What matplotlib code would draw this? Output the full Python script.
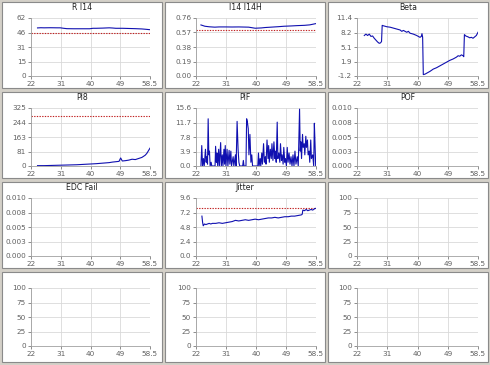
import matplotlib.pyplot as plt
import numpy as np

# x axis (shared by all panels)
x_min, x_max = 22, 58.5
x_labels = ['22', '31', '40', '49', '58.5']

# R I14
ri14_x = [24, 25, 26, 28, 30, 31, 32, 33, 35, 38, 40, 41, 42, 44, 46, 47, 48, 50, 52, 54, 56, 57, 58.5]
ri14_y = [51.4, 51.6, 51.5, 51.6, 51.5, 51.5, 51.0, 50.6, 50.5, 50.5, 50.5, 51.0, 51.0, 51.2, 51.5, 51.3, 51.0, 51.0, 50.8, 50.6, 50.3, 50.0, 49.5]
ri14_limit = 45.5

# I14 I14H
i14_x = [23.5, 24.7, 26, 27.7, 29, 31.1, 33, 35, 37, 38, 40, 41.9, 43, 44.8, 47, 48.8, 51, 52.7, 55, 56.6, 57.5, 58.5]
i14_y = [0.669, 0.652, 0.645, 0.64, 0.643, 0.643, 0.642, 0.643, 0.641, 0.64, 0.626, 0.63, 0.635, 0.64, 0.646, 0.652, 0.656, 0.66, 0.664, 0.67, 0.678, 0.687]
i14_limit = 0.605

# Beta
beta_x = [24.2, 24.7, 25.2, 25.7, 26.2, 26.7, 27.2, 27.7, 28.2, 28.7, 29.1, 29.4, 29.6, 30, 31, 32, 33,
          34, 35, 35.5, 36, 37, 37.5, 38, 39, 40, 40.5, 41, 41.4, 41.6, 41.8, 42.0, 42.5, 43, 44, 45,
          46, 47, 48, 49, 50, 51, 52, 52.5, 53, 53.5, 54.0, 54.2, 54.4, 54.8, 55.5, 56, 56.5, 57,
          57.5, 58, 58.5]
beta_y = [7.6, 7.9, 7.6, 7.9, 7.4, 7.5, 7.0, 6.6, 6.2, 5.9, 6.0, 6.3, 9.8, 9.7, 9.5, 9.4, 9.2,
          9.0, 8.8, 8.5, 8.7, 8.3, 8.5, 8.1, 7.9, 7.6, 7.4, 7.2, 7.4, 8.0, 7.2, -0.9, -0.8, -0.6, -0.2, 0.3,
          0.6, 1.0, 1.4, 1.8, 2.2, 2.5, 2.9, 3.2, 3.1, 3.4, 3.2, 3.0, 7.8, 7.5, 7.3, 7.1, 7.2, 7.0,
          7.3, 7.6, 8.3]

# PI8
p18_x = [24, 26, 28, 30, 32, 34, 36, 38, 40, 42, 44, 46, 47, 48, 49, 49.5, 50, 51, 52, 53, 54, 55, 56, 57, 57.5, 58, 58.5]
p18_y = [2, 2, 3, 4, 5, 6, 7, 9, 11, 13, 16, 19, 22, 24, 26, 45, 28, 30, 33, 38, 36, 42, 48, 60, 70, 85, 100]
p18_limit = 280

# PIF
pif_x = [23.5, 23.75, 24.0, 24.26, 24.5, 24.88, 25.1, 25.29, 25.5, 25.7, 25.9, 26.1, 26.3, 26.6, 26.8,
         27.8, 27.96, 28.2, 28.37, 28.6, 28.89, 29.1, 29.5, 29.7, 30.0, 30.2, 30.5, 30.7, 30.9, 31.1,
         31.45, 31.7, 32.07, 32.3, 32.6, 32.8, 33.3, 33.5, 34.0, 34.2, 34.5, 34.8, 35.05, 35.3, 36.2,
         36.4, 36.6, 37.2, 37.4, 37.6, 37.9, 38.1, 38.4, 38.7, 38.96, 39.2, 40.8, 41.0, 41.2, 41.5,
         41.7, 42.0, 42.2, 42.55, 42.8, 43.1, 43.3, 43.6, 43.9, 44.1, 44.3, 44.6, 44.9, 45.1, 45.4,
         45.7, 46.0, 46.15, 46.4, 46.7, 46.9, 47.2, 47.5, 47.7, 48.0, 48.2, 48.5, 48.7, 49.0, 49.2,
         49.5, 49.75, 50.0, 50.3, 50.6, 50.9, 51.2, 51.5, 51.8, 52.1, 52.4, 52.8, 53.1, 53.5, 53.7,
         53.9, 54.1, 54.4, 54.6, 54.9, 55.1, 55.4, 55.6, 55.9, 56.1, 56.4, 56.6, 56.9, 57.1, 57.5,
         57.8, 58.0, 58.2, 58.4]
pif_y = [0, 5.5, 0, 2.0, 0, 4.5, 1, 2.5, 0.5, 12.7, 3, 4, 0, 1, 0,
         0, 5.3, 1, 3.5, 0, 4.5, 0, 6.3, 0, 3, 0, 4.5, 0.5, 5.5, 0,
         4.5, 0, 4.2, 0.5, 4, 0, 2.5, 0, 3, 0, 12, 4.5, 1, 0, 0,
         1.5, 0, 0, 12.7, 12, 10, 3, 8.5, 1, 3, 0, 0, 3.5, 0, 2,
         0, 3.5, 0.5, 6, 1, 2.5, 0.5, 7, 2, 5.5, 1, 4.5, 2, 6, 1.5,
         6.5, 2, 4, 1, 11.8, 2, 3.5, 1, 6, 1.5, 3, 0.5, 5, 1, 2,
         0, 5, 1, 3.5, 0.5, 2.5, 0, 3, 0, 4, 0.5, 2.5, 0, 15.3, 4,
         6.5, 2, 8.5, 5, 6, 3, 8, 5, 7, 3, 4, 1, 7, 2, 3,
         0, 11.5, 6, 0]

# Jitter
jit_x = [23.8, 24.0, 24.2, 24.6, 25, 25.5, 26, 26.5, 27, 28, 29, 30, 31, 32, 33, 34, 35, 36, 37, 38, 39, 40,
         41, 42, 43, 44, 45, 46, 47, 48, 49, 50, 51, 52, 53, 54, 54.3, 54.5, 55, 55.5, 56, 56.5, 57, 57.5, 58, 58.5]
jit_y = [6.6, 5.6, 5.0, 5.3, 5.2, 5.3, 5.4, 5.3, 5.4, 5.4, 5.5, 5.4, 5.5, 5.6, 5.7, 5.9, 5.8, 5.9, 6.0, 5.9, 6.0, 6.1,
         6.0, 6.1, 6.2, 6.3, 6.3, 6.4, 6.3, 6.4, 6.5, 6.5, 6.6, 6.6, 6.7, 6.8, 6.9, 7.6, 7.5, 7.7, 7.5, 7.6, 7.7, 7.6, 7.8, 7.9]
jit_limit = 7.9

# panels: title, y min, y max, y tick labels, series, limit
panels = [
    ('R I14', 0, 62, ['0', '15', '31', '46', '62'], (ri14_x, ri14_y), ri14_limit),
    ('I14 I14H', 0, 0.76, ['0.00', '0.19', '0.38', '0.57', '0.76'], (i14_x, i14_y), i14_limit),
    ('Beta', -1.2, 11.4, ['-1.2', '1.9', '5.1', '8.2', '11.4'], (beta_x, beta_y), None),
    ('PI8', 0, 325, ['0', '81', '163', '244', '325'], (p18_x, p18_y), p18_limit),
    ('PIF', 0, 15.6, ['0.0', '3.9', '7.8', '11.7', '15.6'], (pif_x, pif_y), None),
    ('POF', 0, 0.010, ['0.000', '0.003', '0.005', '0.008', '0.010'], None, None),
    ('EDC Fail', 0, 0.010, ['0.000', '0.003', '0.005', '0.008', '0.010'], None, None),
    ('Jitter', 0, 9.6, ['0.0', '2.4', '4.8', '7.2', '9.6'], (jit_x, jit_y), jit_limit),
    ('', 0, 100, ['0', '25', '50', '75', '100'], None, None),
    ('', 0, 100, ['0', '25', '50', '75', '100'], None, None),
    ('', 0, 100, ['0', '25', '50', '75', '100'], None, None),
    ('', 0, 100, ['0', '25', '50', '75', '100'], None, None),
]

W, H = 490, 365
fig = plt.figure(figsize=(W / 100, H / 100), dpi=100)
fig.patch.set_facecolor('#d4d0c8')

panel_cols = [(2, 162), (165, 325), (328, 488)]
panel_rows = [(2, 88), (92, 178), (182, 268), (272, 362)]
axes_cols = [(31, 150), (196, 316), (357, 478)]

tick_color = '#606060'
grid_color = '#d9d9d9'

for i, (title, y0, y1, ylabels, series, limit) in enumerate(panels):
    r, c = divmod(i, 3)
    px0, px1 = panel_cols[c]
    py0, py1 = panel_rows[r]
    fig.patches.append(plt.Rectangle((px0 / W, 1 - py1 / H), (px1 - px0) / W, (py1 - py0) / H,
                                     transform=fig.transFigure, facecolor='white',
                                     edgecolor='#8a8a8a', linewidth=0.8, zorder=-5))
    if title:
        fig.text((px0 + px1) / 2 / W, 1 - (py0 + 6) / H, title, ha='center', va='center',
                 fontsize=5.6, color='#202020')

    ax0, ax1 = axes_cols[c]
    top, bottom = py0 + 16, py0 + 74
    ax = fig.add_axes([ax0 / W, 1 - bottom / H, (ax1 - ax0) / W, (bottom - top) / H])
    ax.set_zorder(2)
    ax.set_facecolor('white')
    ax.set_xlim(x_min, x_max)
    ax.set_ylim(y0, y1)
    ax.set_xticks(np.linspace(x_min, x_max, 5))
    ax.set_xticklabels(x_labels)
    ax.set_yticks(np.linspace(y0, y1, 5))
    ax.set_yticklabels(ylabels)
    ax.grid(True, color=grid_color, linewidth=0.6)
    ax.set_axisbelow(True)
    for s in ['top', 'right']:
        ax.spines[s].set_visible(False)
    for s in ['left', 'bottom']:
        ax.spines[s].set_color('#a0a0a0')
        ax.spines[s].set_linewidth(0.6)
    ax.tick_params(labelsize=5.2, colors=tick_color, length=2, width=0.5, pad=1.5)

    if limit is not None:
        ax.axhline(limit, color='#c02020', linestyle=(0, (1.2, 1.2)), linewidth=0.8)
    if series is not None:
        ax.plot(series[0], series[1], color='#1010b0', linewidth=0.8)

fig.savefig('out.png', dpi=100, facecolor=fig.get_facecolor())
